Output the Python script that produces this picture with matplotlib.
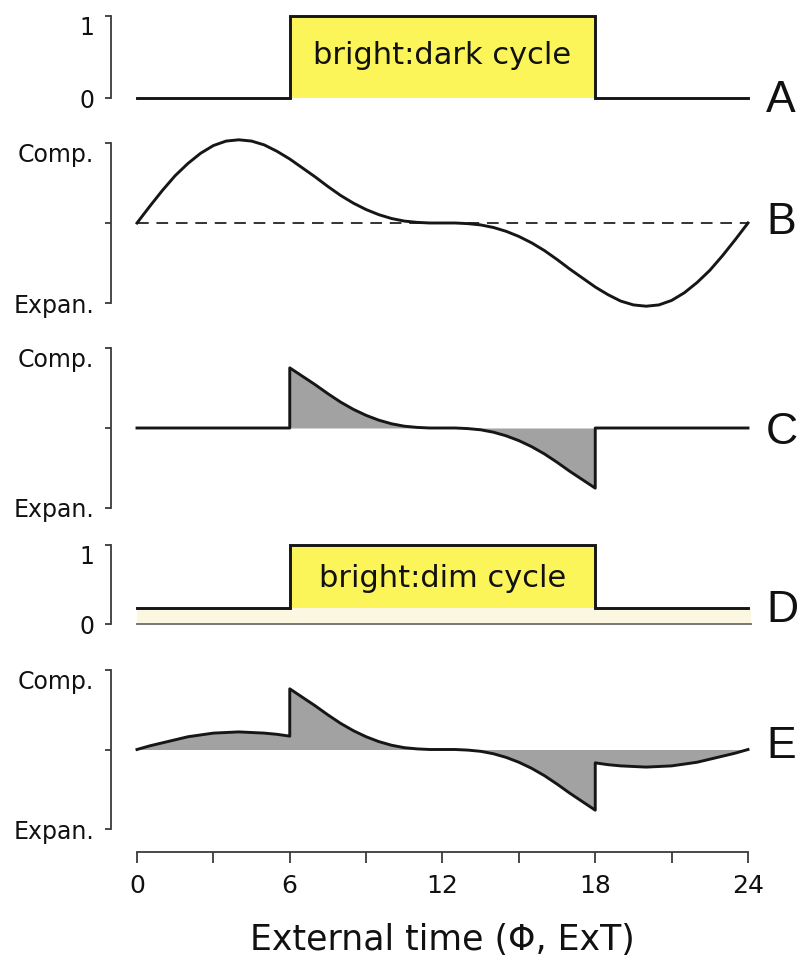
import matplotlib
matplotlib.use("Agg")
import matplotlib.pyplot as plt
import numpy as np

# ---------------- data ----------------
# time grid (hours of external time)
t_full = [0.0, 0.5, 1.0, 1.5, 2.0, 2.5, 3.0, 3.5, 4.0, 4.5, 5.0, 5.5, 6.0,
          6.5, 7.0, 7.5, 8.0, 8.5, 9.0, 9.5, 10.0, 10.5, 11.0, 11.5, 12.0,
          12.5, 13.0, 13.5, 14.0, 14.5, 15.0, 15.5, 16.0, 16.5, 17.0, 17.5, 18.0,
          18.5, 19.0, 19.5, 20.0, 20.5, 21.0, 21.5, 22.0, 22.5, 23.0, 23.5, 24.0]
# B: intrinsic compression/expansion curve
b_vals = [0.00, 0.26, 0.51, 0.74, 0.93, 1.09, 1.21, 1.28, 1.30, 1.28, 1.22, 1.12, 1.00,
          0.86, 0.72, 0.57, 0.43, 0.31, 0.21, 0.13, 0.07, 0.03, 0.01, 0.00, 0.00,
          0.00, -0.01, -0.03, -0.07, -0.13, -0.21, -0.31, -0.43, -0.57, -0.72, -0.86, -1.00,
          -1.12, -1.22, -1.28, -1.30, -1.28, -1.21, -1.09, -0.93, -0.74, -0.51, -0.26, 0.00]

t_morning = [0.0, 0.5, 1.0, 1.5, 2.0, 2.5, 3.0, 3.5, 4.0, 4.5, 5.0, 5.5, 6.0]
t_day = [6.0, 6.5, 7.0, 7.5, 8.0, 8.5, 9.0, 9.5, 10.0, 10.5, 11.0, 11.5, 12.0,
         12.5, 13.0, 13.5, 14.0, 14.5, 15.0, 15.5, 16.0, 16.5, 17.0, 17.5, 18.0]
t_evening = [18.0, 18.5, 19.0, 19.5, 20.0, 20.5, 21.0, 21.5, 22.0, 22.5, 23.0, 23.5, 24.0]

# C: response under bright:dark cycle
c_morning = [0.0] * 13
c_day = [1.00, 0.86, 0.72, 0.57, 0.43, 0.31, 0.21, 0.13, 0.07, 0.03, 0.01, 0.00, 0.00,
         0.00, -0.01, -0.03, -0.07, -0.13, -0.21, -0.31, -0.43, -0.57, -0.72, -0.86, -1.00]
c_evening = [0.0] * 13

# E: response under bright:dim cycle
e_morning = [0.00, 0.06, 0.11, 0.16, 0.21, 0.24, 0.27, 0.28, 0.29, 0.28, 0.27, 0.25, 0.22]
e_day = c_day
e_evening = [-0.22, -0.25, -0.27, -0.28, -0.29, -0.28, -0.27, -0.24, -0.21, -0.16, -0.11, -0.06, 0.00]

# light schedules
light_t = [0, 6, 6, 18, 18, 24]
light_dark = [0, 0, 1, 1, 0, 0]
light_dim = [0.2, 0.2, 1, 1, 0.2, 0.2]
dim_level = 0.2
on_time, off_time = 6, 18

x_major = [0, 6, 12, 18, 24]
x_minor = [3, 9, 15, 21]
panel_letters = ["A", "B", "C", "D", "E"]

# ---------------- styling ----------------
W, H = 803, 961
LINE = "#161616"
SPINE = "#3a3a3a"
YELLOW = "#fbf55a"
CREAM = "#fcf7e1"
GRAY = "#a2a2a2"
LW = 2.1

fig = plt.figure(figsize=(W / 100, H / 100), dpi=100)
plt.rcParams["font.family"] = ["DejaVu Sans"]


def rect(top, bottom):
    return [137 / W, 1 - bottom / H, 611 / W, (bottom - top) / H]


def style_left(ax, ticks, labels, lim):
    for s in ("top", "right", "bottom"):
        ax.spines[s].set_visible(False)
    ax.spines["left"].set_position(("outward", 18.7))
    ax.spines["left"].set_color(SPINE)
    ax.spines["left"].set_linewidth(1.3)
    ax.set_xlim(0, 24)
    ax.set_ylim(*lim)
    ax.set_xticks([])
    ax.set_yticks(ticks)
    ax.set_yticklabels(labels)
    ax.tick_params(axis="y", direction="out", length=4, width=1.3, color=SPINE,
                   pad=8, labelsize=17, labelcolor="#111111")
    # top label hangs just below the end of the bracket
    ax.get_yticklabels()[-1].set_va("top")
    ax.patch.set_alpha(0)


tf = np.array(t_full)
tc = np.array(t_morning + t_day + t_evening)
cv = np.array(c_morning + c_day + c_evening)
ev = np.array(e_morning + e_day + e_evening)

# ---- A ----
axA = fig.add_axes(rect(16, 98))
style_left(axA, [0, 1], ["0", "1"], (0, 1))
axA.fill_between([on_time, off_time], 0, 1, color=YELLOW, lw=0)
axA.plot(light_t, light_dark, color=LINE, lw=LW, clip_on=False, solid_joinstyle="miter")
axA.text(12, 0.52, "bright:dark cycle", ha="center", va="center", fontsize=22, color="#111111")

# ---- B ----
axB = fig.add_axes(rect(143, 303))
style_left(axB, [-1.25, 0, 1.25], ["Expan.", "", "Comp."], (-1.25, 1.25))
axB.axhline(0, xmin=0, xmax=1, color="#333333", lw=1.4, ls=(0, (6, 4)))
axB.plot(tf, b_vals, color=LINE, lw=LW, clip_on=False, solid_joinstyle="round")

# ---- C ----
axC = fig.add_axes(rect(348, 508))
style_left(axC, [-1.33, 0, 1.33], ["Expan.", "", "Comp."], (-1.33, 1.33))
axC.fill_between(tc, 0, cv, color=GRAY, lw=0)
axC.plot(tc, cv, color=LINE, lw=LW, clip_on=False, solid_joinstyle="round")

# ---- D ----
axD = fig.add_axes(rect(545, 624))
style_left(axD, [0, 1], ["0", "1"], (0, 1))
axD.fill_between([0, 24.1], 0, dim_level, color=CREAM, lw=0, clip_on=False)
axD.fill_between([on_time, off_time], dim_level, 1, color=YELLOW, lw=0)
axD.plot([0, 24.1], [0, 0], color="#777777", lw=1.4, clip_on=False)
axD.plot(light_t, light_dim, color=LINE, lw=LW, clip_on=False, solid_joinstyle="miter")
axD.text(12, 0.57, "bright:dim cycle", ha="center", va="center", fontsize=22, color="#111111")

# ---- E ----
axE = fig.add_axes(rect(670, 829))
style_left(axE, [-1.31, 0, 1.31], ["Expan.", "", "Comp."], (-1.31, 1.31))
axE.fill_between(tc, 0, ev, color=GRAY, lw=0)
axE.plot(tc, ev, color=LINE, lw=LW, clip_on=False, solid_joinstyle="round")

# ---- shared x axis ----
axX = fig.add_axes([137 / W, 1 - 852 / H, 611 / W, 0.0001])
for s in ("top", "right", "left"):
    axX.spines[s].set_visible(False)
axX.spines["bottom"].set_color(SPINE)
axX.spines["bottom"].set_linewidth(1.3)
axX.set_xlim(0, 24)
axX.set_yticks([])
axX.set_xticks(x_major)
axX.set_xticklabels([str(v) for v in x_major])
axX.set_xticks(x_minor, minor=True)
axX.tick_params(axis="x", which="both", direction="out", length=8, width=1.3,
                color=SPINE, pad=8, labelsize=18, labelcolor="#111111")
axX.set_xlabel("External time (Φ, ExT)", fontsize=25, labelpad=18, color="#111111")

# ---- panel letters ----
letter_y = [100, 222, 432, 610, 747]
for lab, yy in zip(panel_letters, letter_y):
    fig.text(766 / W, 1 - yy / H, lab, ha="left", va="center", fontsize=32,
             family=["Liberation Sans", "DejaVu Sans"], color="#111111")

fig.savefig("out.png", dpi=100)
